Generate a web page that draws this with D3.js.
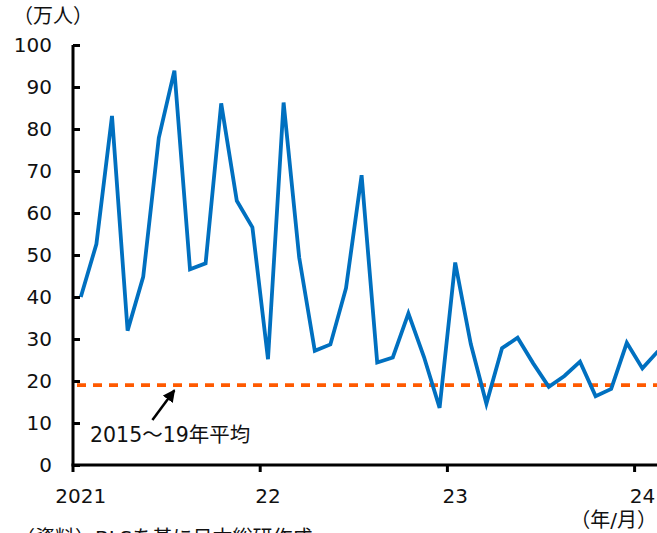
<!DOCTYPE html>
<html>
<head>
<meta charset="utf-8">
<script src="https://cdn.jsdelivr.net/npm/d3@7"></script>
<style>
  html, body { margin: 0; padding: 0; background: #fff; }
  svg { display: block; }
  text { font-family: "DejaVu Sans", "Noto Sans CJK JP", sans-serif; fill: #111; }
</style>
</head>
<body>
<svg id="chart" width="657" height="533"></svg>
<script>
// Monthly values (万人), Jan 2021 – Feb 2024
const months = d3.range(38).map(i => {
  const yr = 2021 + Math.floor(i / 12), m = (i % 12) + 1;
  return `${yr}-${String(m).padStart(2, "0")}`;
});
const values = [
  40.0, 52.6, 83.1, 32.0, 44.8, 77.9, 93.9, 46.6, 48.0, 86.1, 62.9, 56.6,
  25.2, 86.3, 49.4, 27.2, 28.7, 42.1, 69.0, 24.4, 25.6, 36.1, 25.7, 13.6,
  48.2, 28.8, 14.6, 27.8, 30.3, 24.2, 18.6, 21.2, 24.6, 16.4, 18.1, 29.1,
  23.0, 27.1
];
const average2015to19 = 19.0;
const yTicks = [0, 10, 20, 30, 40, 50, 60, 70, 80, 90, 100];
const yearLabels = ["2021", "22", "23", "24"];
const yearStartIdx = [0, 12, 24, 36];

const svg = d3.select("#chart");
const plotLeft = 73, plotBottom = 465, plotTop = 45, step = 15.6;

const x = d3.scaleBand().domain(months).range([plotLeft, plotLeft + months.length * step]).padding(0);
const y = d3.scaleLinear().domain([0, 100]).range([plotBottom, plotTop]);
const cx = i => x(months[i]) + x.bandwidth() / 2;

// average reference line
svg.append("line")
  .attr("x1", plotLeft + 4).attr("x2", 657)
  .attr("y1", y(average2015to19)).attr("y2", y(average2015to19))
  .attr("stroke", "#FF5A00").attr("stroke-width", 3.8)
  .attr("stroke-dasharray", "9,7");

// series line
const line = d3.line().x((d, i) => cx(i)).y(d => y(d));
svg.append("path").datum(values)
  .attr("d", line)
  .attr("fill", "none")
  .attr("stroke", "#0070C0")
  .attr("stroke-width", 3.8)
  .attr("stroke-linejoin", "miter");

// y axis (ticks pointing inward)
const yAxis = d3.axisRight(y).tickValues(yTicks).tickSize(7).tickFormat("");
const gy = svg.append("g").attr("transform", `translate(${plotLeft},0)`).call(yAxis);
gy.select(".domain").attr("d", `M0,${plotTop}V${plotBottom}`).attr("stroke", "#000").attr("stroke-width", 3);
gy.selectAll(".tick line").attr("stroke", "#000").attr("stroke-width", 3);
svg.append("g").selectAll("text").data(yTicks).join("text")
  .attr("x", 52).attr("y", d => y(d)).attr("dy", "0.36em")
  .attr("text-anchor", "end").attr("font-size", 20)
  .text(d => d);

// x axis: ticks at year boundaries, labels at January
svg.append("line")
  .attr("x1", plotLeft - 1.5).attr("x2", 657).attr("y1", plotBottom).attr("y2", plotBottom)
  .attr("stroke", "#000").attr("stroke-width", 3);
svg.append("g").selectAll("line").data(yearStartIdx).join("line")
  .attr("x1", i => x(months[i])).attr("x2", i => x(months[i]))
  .attr("y1", plotBottom).attr("y2", plotBottom + 7)
  .attr("stroke", "#000").attr("stroke-width", 3);
svg.append("g").selectAll("text").data(yearLabels).join("text")
  .attr("x", (d, k) => cx(yearStartIdx[k])).attr("y", 503)
  .attr("text-anchor", "middle").attr("font-size", 20)
  .text(d => d);

// unit labels
svg.append("text").attr("x", 13).attr("y", 23).attr("font-size", 20)
  .attr("font-family", "Noto Sans CJK JP").text("（万人）");
svg.append("text").attr("x", 657).attr("y", 527).attr("text-anchor", "end")
  .attr("font-size", 20).attr("font-family", "Noto Sans CJK JP").text("（年/月）");

// source note
svg.append("text").attr("x", 15).attr("y", 545).attr("font-size", 20)
  .attr("font-family", "Noto Sans CJK JP").text("（資料）BLSを基に日本総研作成");

// annotation for the average line
const tip = [cx(6), y(average2015to19) + 5];
const tail = [cx(6) - 22, y(10.7)];
svg.append("defs").append("marker")
  .attr("id", "ah").attr("viewBox", "0 0 10 10").attr("refX", 9).attr("refY", 5)
  .attr("markerWidth", 5).attr("markerHeight", 5).attr("orient", "auto")
  .append("path").attr("d", "M0,0L10,5L0,10Z").attr("fill", "#000");
svg.append("line")
  .attr("x1", tail[0]).attr("y1", tail[1]).attr("x2", tip[0]).attr("y2", tip[1])
  .attr("stroke", "#000").attr("stroke-width", 2.5).attr("marker-end", "url(#ah)");
svg.append("text").attr("x", 90).attr("y", 442).attr("font-size", 20.5)
  .text("2015～19年平均");
</script>
</body>
</html>
